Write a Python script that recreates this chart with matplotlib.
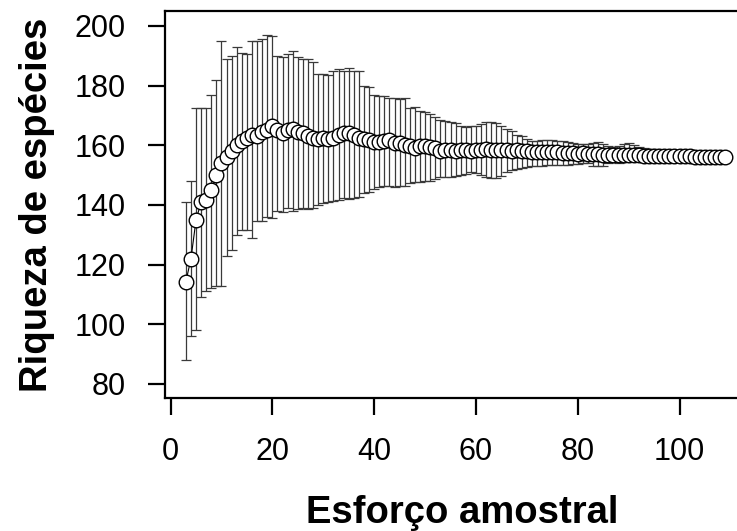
import numpy as np
import matplotlib
matplotlib.use('Agg')
import matplotlib.pyplot as plt

plt.rcParams['font.family'] = ['Liberation Sans', 'DejaVu Sans']

# sampling effort (number of samples)
esforco = list(range(3, 110))

# mean species richness
riqueza = [
    114.3, 122.0, 135.0, 141.0, 141.5, 145.0, 150.0, 154.0, 156.0, 158.0,
    160.0, 161.5, 162.5, 163.5, 163.0, 164.5, 165.0, 166.5, 165.0, 164.0,
    165.0, 165.5, 164.5, 164.0, 163.0, 162.5, 162.0, 162.5, 162.0, 162.5,
    163.5, 164.0, 164.0, 163.5, 162.5, 162.0, 161.8, 161.2, 161.2, 161.5,
    161.8, 160.8, 160.7, 160.2, 159.6, 159.0, 159.6, 159.6, 159.5, 159.0,
    158.0, 158.5, 158.3, 158.2, 158.5, 158.4, 158.2, 158.3, 158.5, 158.6,
    158.3, 158.4, 158.5, 158.3, 158.2, 158.3, 158.0, 158.1, 157.9, 157.8,
    157.9, 157.7, 157.6, 157.6, 157.4, 157.5, 157.3, 157.2, 157.3, 157.1,
    157.0, 157.1, 156.9, 156.9, 156.8, 156.8, 156.7, 156.7, 156.6, 156.6,
    156.5, 156.5, 156.5, 156.4, 156.4, 156.4, 156.3, 156.3, 156.3, 156.3,
    156.2, 156.2, 156.2, 156.2, 156.2, 156.2, 156.2,
]

# upper and lower limits of the bars
superior = [
    141.0, 148.0, 172.5, 172.5, 172.5, 177.0, 182.0, 195.0, 189.0, 190.0,
    193.0, 191.0, 190.5, 195.0, 195.0, 195.5, 197.0, 196.5, 190.0, 189.5,
    190.5, 191.5, 189.5, 189.0, 189.0, 188.0, 184.0, 184.0, 183.5, 185.0,
    185.5, 185.0, 186.0, 185.0, 185.0, 180.0, 179.5, 177.0, 176.5, 176.5,
    176.0, 175.8, 175.5, 176.0, 172.5, 172.8, 171.5, 171.0, 170.5, 169.5,
    168.5, 168.0, 167.8, 167.5, 166.5, 166.2, 166.3, 166.5, 167.0, 167.8,
    167.7, 167.5, 166.5, 165.5, 164.8, 163.5, 163.0, 162.0, 161.5, 161.4,
    161.6, 161.8, 161.7, 161.5, 161.3, 161.2, 160.6, 160.4, 160.5, 160.4,
    160.9, 161.2, 160.3, 159.6, 159.5, 159.8, 160.4, 160.6, 160.2, 159.4,
    159.0, 158.8, 158.6, 158.5, 158.3, 158.2, 158.0, 157.8, 157.6, 157.4,
    157.2, 157.0, 156.9, 156.7, 156.5, 156.4, 156.2,
]

inferior = [
    88.0, 96.0, 98.0, 109.0, 111.0, 112.0, 113.0, 113.0, 123.0, 125.0,
    130.0, 131.5, 131.5, 129.0, 134.5, 134.5, 136.0, 135.5, 138.0, 137.5,
    139.0, 138.0, 138.5, 139.0, 138.5, 139.0, 140.0, 140.5, 141.0, 141.2,
    141.5, 142.3, 142.0, 142.3, 142.5, 144.0, 144.3, 145.5, 146.0, 146.2,
    146.3, 146.0, 146.2, 146.4, 147.4, 147.6, 147.8, 148.0, 148.0, 148.8,
    149.2, 149.5, 149.5, 149.8, 150.0, 150.4, 150.9, 150.6, 150.0, 149.2,
    148.9, 149.0, 149.8, 151.0, 151.7, 152.0, 152.4, 152.8, 152.9, 153.0,
    153.2, 153.4, 153.3, 153.5, 153.4, 153.5, 153.7, 153.8, 153.9, 154.0,
    153.2, 152.9, 153.0, 154.0, 154.3, 154.2, 154.5, 154.6, 154.6, 155.0,
    155.2, 155.3, 155.4, 155.5, 155.6, 155.7, 155.8, 155.9, 155.9, 156.0,
    156.0, 156.1, 156.1, 156.1, 156.2, 156.2, 156.2,
]

xticks = [0, 20, 40, 60, 80, 100]
yticks = [80, 100, 120, 140, 160, 180, 200]

x = np.array(esforco)
m = np.array(riqueza)
up = np.array(superior)
lo = np.array(inferior)

fig = plt.figure(figsize=(7.37, 5.31), dpi=100)
# right side of the plot box runs past the edge of the picture, as in the original
ax = fig.add_axes([165 / 737, 1 - 398 / 531, 595 / 737, 387 / 531])

ax.errorbar(x, m, yerr=[m - lo, up - m], fmt='none', ecolor='#3a3a3a',
            elinewidth=0.9, capsize=3.5, capthick=0.9, zorder=2)
ax.plot(x, m, '-', color='black', lw=0.8, zorder=3)
ax.plot(x, m, 'o', ms=10.5, mfc='white', mec='black', mew=1.0, zorder=4)

ax.set_xlim(-1.1, 115.8)
ax.set_ylim(75.3, 205.0)
ax.set_xticks(xticks)
ax.set_yticks(yticks)
ax.tick_params(direction='out', length=12, width=1.6, labelsize=22, pad=16)
for s in ax.spines.values():
    s.set_linewidth(1.6)

ax.set_xlabel('Esforço amostral', fontsize=27.5, fontweight='bold')
ax.set_ylabel('Riqueza de espécies', fontsize=27.5, fontweight='bold')
ax.xaxis.set_label_coords(0.5, -0.25)
ax.yaxis.set_label_coords(-0.185, 0.5)

fig.savefig('out.png', dpi=100)
